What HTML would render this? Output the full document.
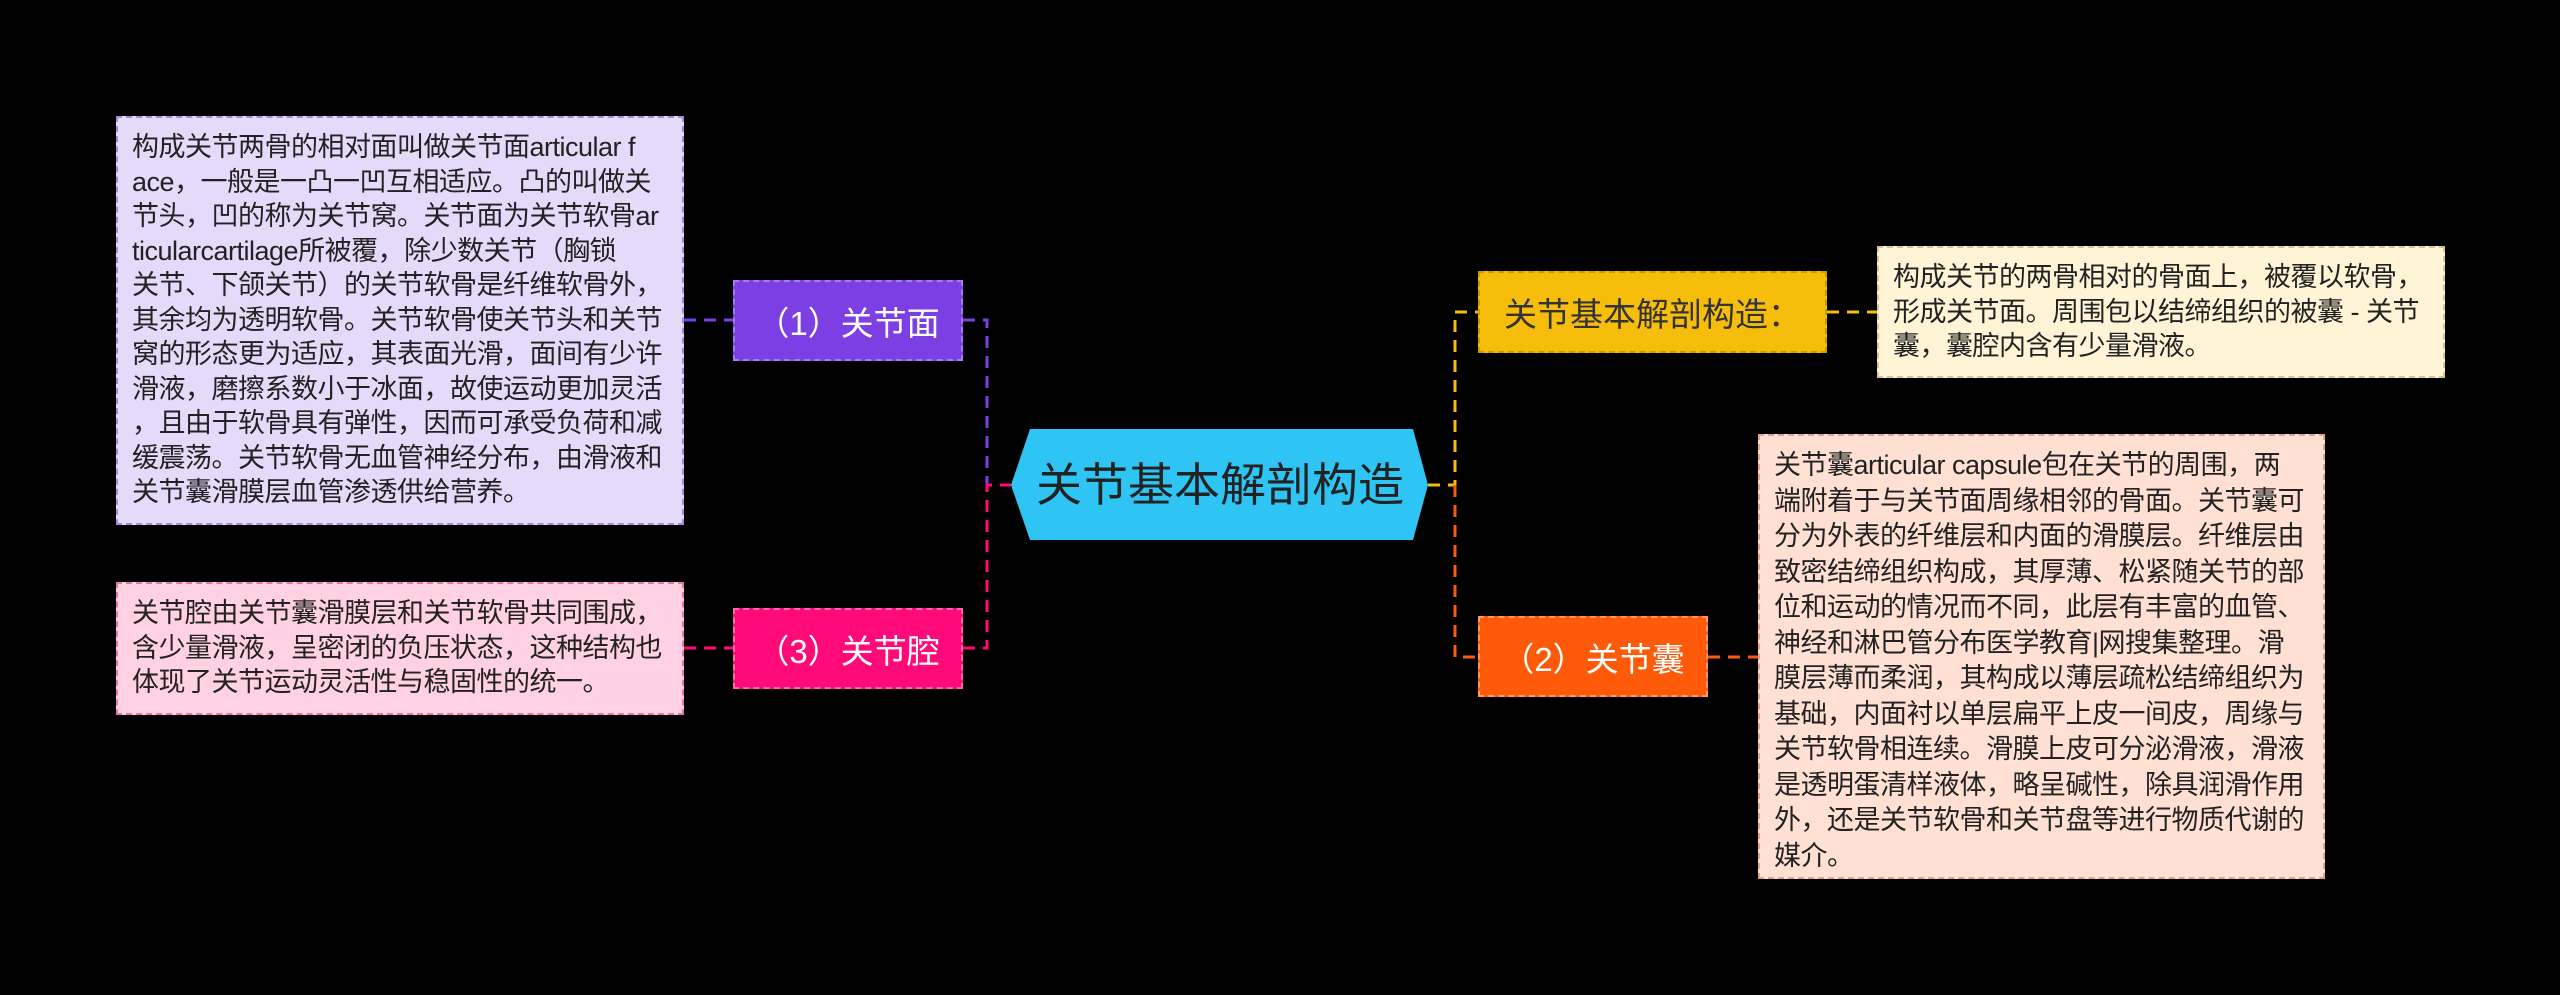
<!DOCTYPE html>
<html><head><meta charset="utf-8"><style>
body{margin:0;width:2560px;height:995px;background:#000;position:relative;overflow:hidden;font-family:"Liberation Sans","Noto Sans CJK SC",sans-serif}
.b{position:absolute;box-sizing:border-box;}
.t{font-size:27px;line-height:34.5px;color:#222;padding:12px 0 0 14px;white-space:nowrap;letter-spacing:-0.5px}
.n{display:flex;align-items:center;justify-content:center;font-size:33px;color:#fff}
</style></head><body>
<svg class="b" style="left:0;top:0" width="2560" height="995">
<g fill="none" stroke-width="3" stroke-dasharray="12,8">
<path d="M684 320H733M963 320H987V485" stroke="#7b3fe4"/>
<path d="M684 648H733M963 648H987V485H1011" stroke="#ff0a78"/>
<path d="M1428 485H1455V312H1478M1827 312H1877" stroke="#f7bd0b"/>
<path d="M1455 485V657H1478M1708 657H1758" stroke="#ff5a0a"/>
</g>
<polygon points="1011,485 1030,429 1413,429 1428,485 1413,540 1030,540" fill="#2ec4f3"/>
<text x="1220" y="501" font-size="46" fill="#222" text-anchor="middle" font-family="Liberation Sans,Noto Sans CJK SC,sans-serif">关节基本解剖构造</text>
</svg>
<div class="b t" style="left:116px;top:116px;width:568px;height:409px;background:#e6dafb;border:2px dashed #a58ad8">构成关节两骨的相对面叫做关节面articular f<br>ace，一般是一凸一凹互相适应。凸的叫做关<br>节头，凹的称为关节窝。关节面为关节软骨ar<br>ticularcartilage所被覆，除少数关节（胸锁<br>关节、下颌关节）的关节软骨是纤维软骨外，<br>其余均为透明软骨。关节软骨使关节头和关节<br>窝的形态更为适应，其表面光滑，面间有少许<br>滑液，磨擦系数小于冰面，故使运动更加灵活<br>，且由于软骨具有弹性，因而可承受负荷和减<br>缓震荡。关节软骨无血管神经分布，由滑液和<br>关节囊滑膜层血管渗透供给营养。</div>
<div class="b t" style="left:116px;top:582px;width:568px;height:133px;background:#ffd1e3;border:2px dashed #e07aa5">关节腔由关节囊滑膜层和关节软骨共同围成，<br>含少量滑液，呈密闭的负压状态，这种结构也<br>体现了关节运动灵活性与稳固性的统一。</div>
<div class="b n" style="left:733px;top:280px;width:230px;height:81px;background:#7b3fe4;border:2px dashed #a57cf0">（1）关节面</div>
<div class="b n" style="left:733px;top:608px;width:230px;height:81px;background:#ff0a78;border:2px dashed #ff6aa8">（3）关节腔</div>
<div class="b n" style="left:1478px;top:271px;width:349px;height:82px;background:#f7bd0b;border:2px dashed #c99a00;color:#333">关节基本解剖构造：</div>
<div class="b n" style="left:1478px;top:616px;width:230px;height:81px;background:#ff5a0a;border:2px dashed #ff9a60">（2）关节囊</div>
<div class="b t" style="left:1877px;top:246px;width:568px;height:132px;background:#fff5d6;border:2px dashed #d8c58a;padding-top:12px">构成关节的两骨相对的骨面上，被覆以软骨，<br>形成关节面。周围包以结缔组织的被囊 - 关节<br>囊，囊腔内含有少量滑液。</div>
<div class="b t" style="left:1758px;top:434px;width:567px;height:445px;background:#ffe0d2;border:2px dashed #dca58e;padding-top:12px;line-height:35.5px">关节囊articular capsule包在关节的周围，两<br>端附着于与关节面周缘相邻的骨面。关节囊可<br>分为外表的纤维层和内面的滑膜层。纤维层由<br>致密结缔组织构成，其厚薄、松紧随关节的部<br>位和运动的情况而不同，此层有丰富的血管、<br>神经和淋巴管分布医学教育|网搜集整理。滑<br>膜层薄而柔润，其构成以薄层疏松结缔组织为<br>基础，内面衬以单层扁平上皮一间皮，周缘与<br>关节软骨相连续。滑膜上皮可分泌滑液，滑液<br>是透明蛋清样液体，略呈碱性，除具润滑作用<br>外，还是关节软骨和关节盘等进行物质代谢的<br>媒介。</div>
</body></html>
